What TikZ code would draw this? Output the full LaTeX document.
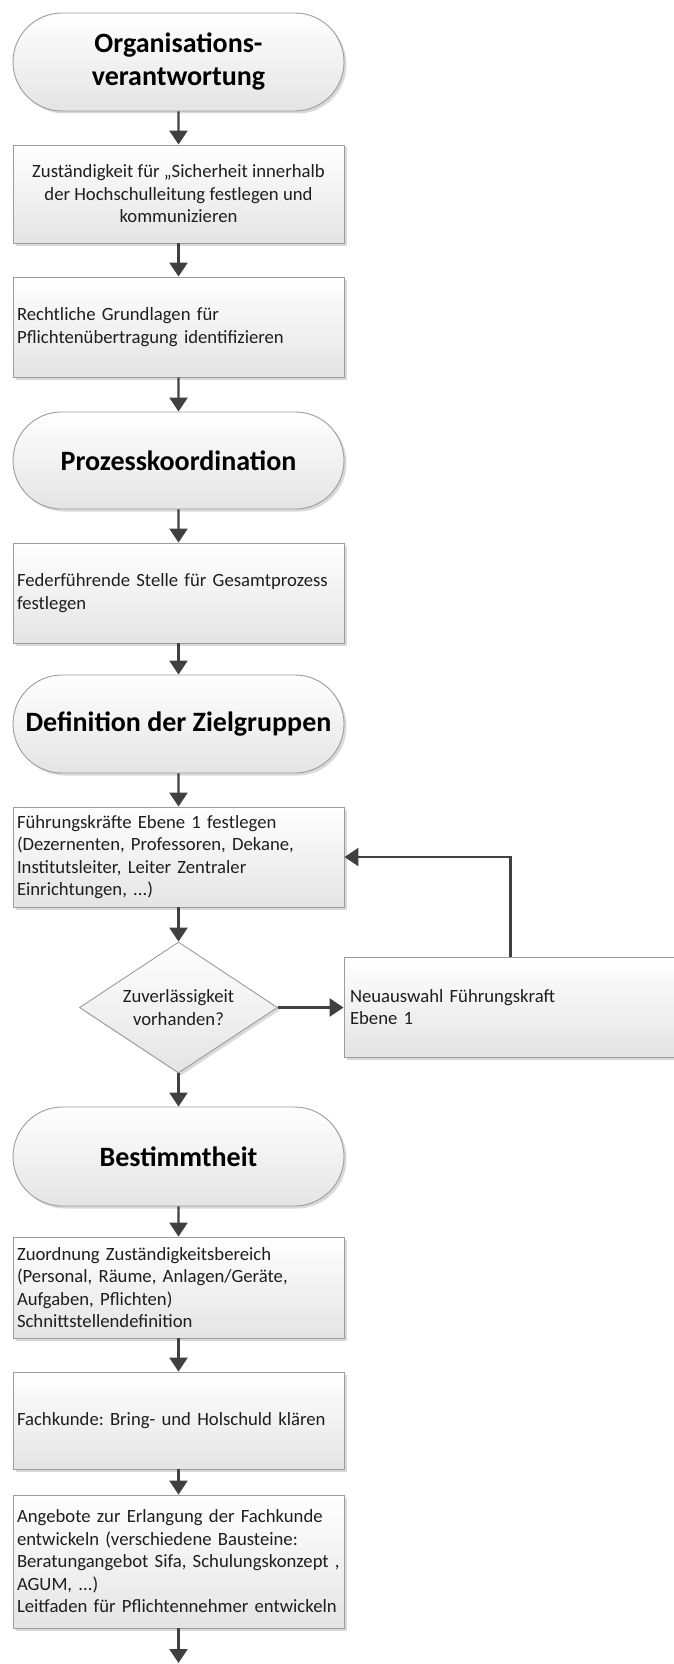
\documentclass[tikz,border=0pt]{standalone}
\usepackage{fontspec}
\setmainfont{Carlito}
\frenchspacing
\usetikzlibrary{shapes.misc,shapes.geometric,arrows.meta,shadows}
\definecolor{arrowcol}{HTML}{404040}
\definecolor{bordercol}{HTML}{9C9C9C}
\definecolor{txtcol}{HTML}{1E1E1E}
\definecolor{fillbot}{HTML}{E4E4E4}
\begin{document}
\begin{tikzpicture}[x=1pt,y=-1pt,
  every node/.style={text=txtcol},
  shade/.style={top color=white,bottom color=fillbot},
  shad/.style={drop shadow={shadow xshift=2.5pt,shadow yshift=-2.5pt,fill=black,opacity=0.15}},
  term/.style={rounded rectangle,draw=bordercol,line width=0.9pt,shade,shad,
    minimum width=331pt,inner sep=0pt,align=center,
    font=\fontsize{28}{33}\selectfont\bfseries,text=black},
  boxc/.style={rectangle,draw=bordercol,line width=0.9pt,shade,shad,
    minimum width=331pt,inner sep=0pt,align=center,
    font=\fontsize{18.7}{22.5}\selectfont},
  boxl/.style={rectangle,draw=bordercol,line width=0.9pt,shade,shad,
    minimum width=331pt,inner xsep=4pt,inner ysep=0pt,text width=323pt,align=left,
    font=\fontsize{18.7}{22.5}\selectfont},
  dec/.style={diamond,aspect=1.51,draw=bordercol,line width=0.9pt,shade,shad,
    minimum width=198pt,minimum height=131pt,inner sep=0pt,align=center,
    font=\fontsize{18.7}{22.5}\selectfont},
  arr/.style={draw=arrowcol,line width=2.4pt,-{Triangle[width=18pt,length=14pt]}}
]
\useasboundingbox (0,0) rectangle (673,1664);

\node[term,minimum height=98pt] (t1) at (178.5,62) {Organisations-\\verantwortung};
\node[boxc,minimum height=98pt] (b1) at (178.5,194) {Zuständigkeit für „Sicherheit innerhalb\\der Hochschulleitung festlegen und\\kommunizieren};
\node[boxl,minimum height=100pt] (b2) at (178.5,327) {Rechtliche Grundlagen für\\Pflichtenübertragung identifizieren};
\node[term,minimum height=97pt] (t2) at (178.5,460.5) {Prozesskoordination};
\node[boxl,minimum height=100pt] (b3) at (178.5,593) {Federführende Stelle für Gesamtprozess\\festlegen};
\node[term,minimum height=98pt] (t3) at (178.5,724) {Definition der Zielgruppen};
\node[boxl,minimum height=100pt] (b4) at (178.5,857) {Führungskräfte Ebene 1 festlegen\\(Dezernenten, Professoren, Dekane,\\Institutsleiter, Leiter Zentraler\\Einrichtungen, ...)};
\node[dec] (d) at (178.5,1007.5) {Zuverlässigkeit\\vorhanden?};
\node[rectangle,draw=bordercol,line width=0.9pt,shade,shad,minimum width=346pt,minimum height=100pt,
  inner xsep=6pt,inner ysep=0pt,text width=334pt,align=left,font=\fontsize{18.7}{22.5}\selectfont] (b5) at (517,1007) {Neuauswahl Führungskraft\\Ebene 1};
\node[term,minimum height=99pt] (t4) at (178.5,1156.5) {Bestimmtheit};
\node[boxl,minimum height=101pt] (b6) at (178.5,1287.5) {Zuordnung Zuständigkeitsbereich\\(Personal, Räume, Anlagen/Geräte,\\Aufgaben, Pflichten)\\Schnittstellendefinition};
\node[boxl,minimum height=97pt] (b7) at (178.5,1420.5) {Fachkunde: Bring- und Holschuld klären};
\node[boxl,minimum height=133pt] (b8) at (178.5,1561.5) {Angebote zur Erlangung der Fachkunde\\entwickeln (verschiedene Bausteine:\\Beratungangebot Sifa, Schulungskonzept ,\\AGUM, ...)\\Leitfaden für Pflichtennehmer entwickeln};
\coordinate (end) at (178.5,1663);

\draw[arr] (t1) -- (b1);
\draw[arr] (b1) -- (b2);
\draw[arr] (b2) -- (t2);
\draw[arr] (t2) -- (b3);
\draw[arr] (b3) -- (t3);
\draw[arr] (t3) -- (b4);
\draw[arr] (b4) -- (d);
\draw[arr] (d.east) -- (d.east -| b5.west);
\draw[arr] ([xshift=167pt]b5.north west) |- (b4.east);
\draw[arr] (d) -- (t4);
\draw[arr] (t4) -- (b6);
\draw[arr] (b6) -- (b7);
\draw[arr] (b7) -- (b8);
\draw[arr] (b8) -- (end);
\end{tikzpicture}
\end{document}
